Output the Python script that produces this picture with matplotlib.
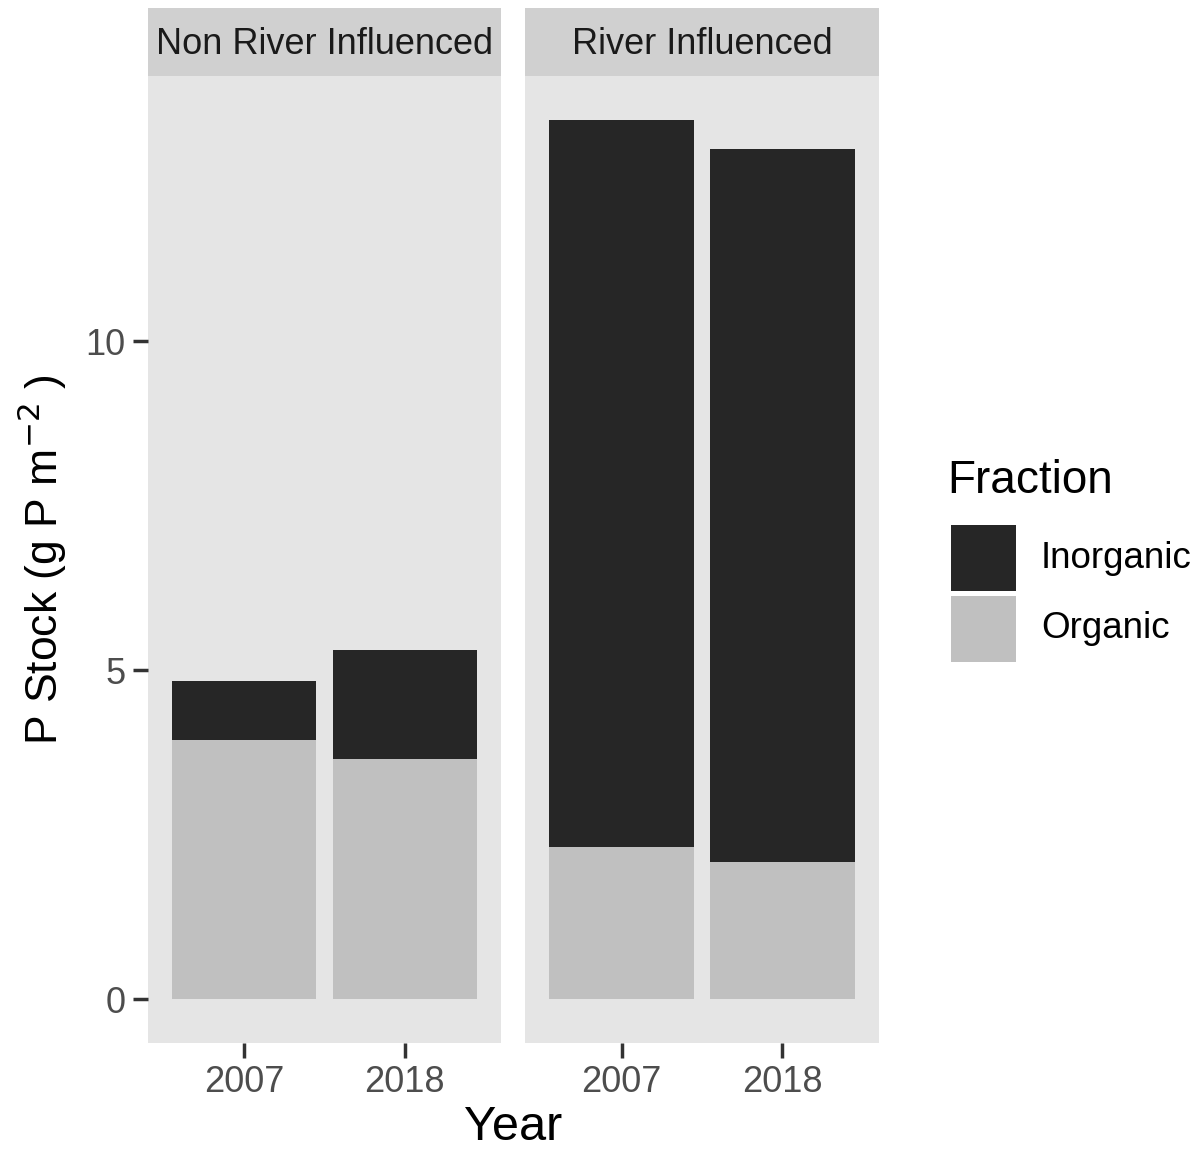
import matplotlib
matplotlib.use("Agg")
import matplotlib.pyplot as plt
from matplotlib.patches import Rectangle

plt.rcParams['font.family'] = ['Liberation Sans', 'DejaVu Sans']

# stacked P stocks by site type and year
sites = ["Non River Influenced", "River Influenced"]
years = ["2007", "2018"]
organic = {"Non River Influenced": [3.94, 3.65], "River Influenced": [2.31, 2.09]}
inorganic = {"Non River Influenced": [0.90, 1.65], "River Influenced": [11.05, 10.83]}

col_inorg = "#262626"
col_org = "#C0C0C0"
panel_bg = "#E5E5E5"
strip_bg = "#D0D0D0"

fig = plt.figure(figsize=(12.01, 11.52), dpi=100)
W, H = 1201, 1152

panels = [(148, 501), (525, 879)]
top, bottom = 76, 1043
ymax = max(o + i for s in sites for o, i in zip(organic[s], inorganic[s]))
ylim = (-0.05 * ymax, 1.05 * ymax)

for k, (site, (x0, x1)) in enumerate(zip(sites, panels)):
    ax = fig.add_axes([x0 / W, 1 - bottom / H, (x1 - x0) / W, (bottom - top) / H])
    ax.set_facecolor(panel_bg)
    xs = range(1, len(years) + 1)
    ax.bar(xs, organic[site], width=0.9, color=col_org, linewidth=0)
    ax.bar(xs, inorganic[site], width=0.9, bottom=organic[site], color=col_inorg, linewidth=0)
    ax.set_xlim(0.4, 2.6)
    ax.set_ylim(*ylim)
    ax.set_xticks(list(xs))
    ax.set_xticklabels(years)
    for s in ax.spines.values():
        s.set_visible(False)
    ax.tick_params(axis='x', length=11, width=2.5, color='#333333', labelsize=26,
                   labelcolor='#4D4D4D', pad=5)
    if k == 0:
        ax.set_yticks([0, 5, 10])
        ax.tick_params(axis='y', length=11, width=2.5, color='#333333', labelsize=26,
                       labelcolor='#4D4D4D', pad=5)
    else:
        ax.set_yticks([])

    # facet strip
    sax = fig.add_axes([x0 / W, 1 - top / H, (x1 - x0) / W, 68 / H])
    sax.set_facecolor(strip_bg)
    sax.set_xticks([])
    sax.set_yticks([])
    for s in sax.spines.values():
        s.set_visible(False)
    sax.text(0.5, 0.47, site, ha='center', va='center', fontsize=26, color='#1A1A1A',
             transform=sax.transAxes)

fig.text(513 / W, 1 - 1128 / H, "Year", ha='center', va='center', fontsize=35)
fig.text(42 / W, 1 - 560 / H, r"P Stock (g P m$^{-2}$ )", ha='center', va='center',
         rotation=90, fontsize=32)

# legend
fig.text(947 / W, 1 - 481 / H, "Fraction", ha='left', va='center', fontsize=33)
for j, (lab, c) in enumerate([("Inorganic", col_inorg), ("Organic", col_org)]):
    y0 = 525 + j * 71
    fig.add_artist(Rectangle((951 / W, 1 - (y0 + 66) / H), 65 / W, 66 / H,
                             transform=fig.transFigure, facecolor=c, edgecolor='none'))
    fig.text(1041 / W, 1 - (y0 + 33) / H, lab, ha='left', va='center', fontsize=26.5)

fig.savefig("out.png", dpi=100)
